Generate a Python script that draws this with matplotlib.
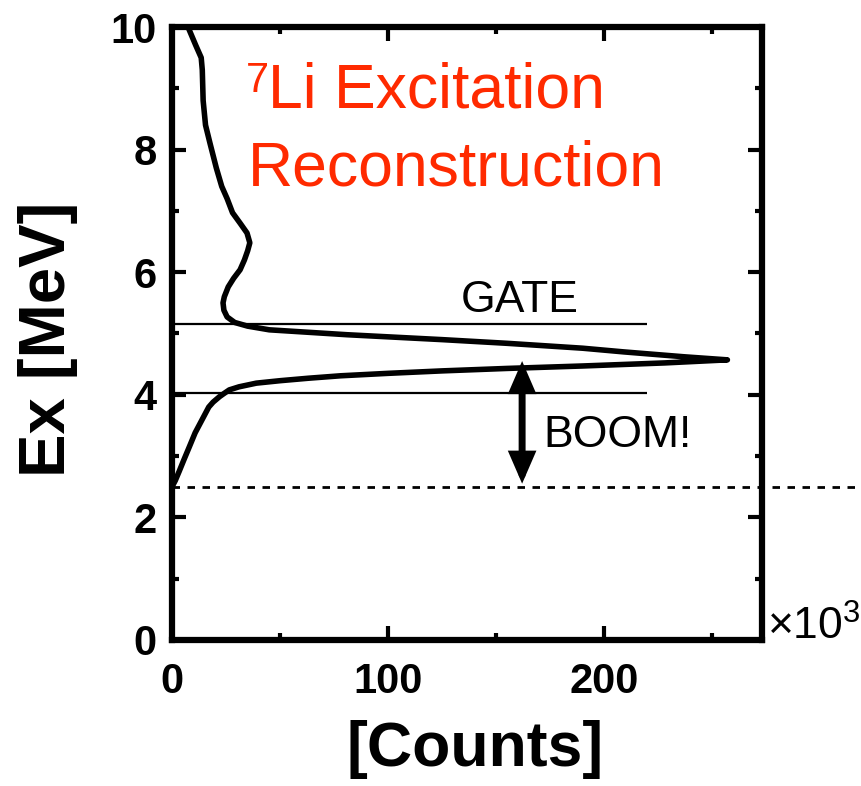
import numpy as np
import matplotlib
matplotlib.use("Agg")
import matplotlib.pyplot as plt

# Data (Ex in MeV, counts in units of 10^3)
ex = [10.0, 9.7, 9.5, 9.3, 8.8, 8.4, 8.1, 7.7, 7.4, 7.2, 6.97, 6.8, 6.64, 6.48, 6.35, 6.2,
      6.04, 5.9, 5.76, 5.6, 5.5, 5.38, 5.27, 5.18, 5.12, 5.06, 4.98, 4.90, 4.84, 4.76,
      4.70, 4.62, 4.57, 4.52, 4.47, 4.43, 4.39, 4.35, 4.31, 4.27, 4.23, 4.19, 4.13, 4.08,
      4.02, 3.97, 3.88, 3.80, 3.6, 3.38, 3.15, 2.94, 2.75, 2.6, 2.5]
counts = [7.4, 11, 13.5, 14, 14.4, 15.5, 17.6, 20.5, 23, 25.5, 28, 31.5, 34.7, 36, 35, 33.5,
          31.5, 28.5, 26, 24.2, 23.6, 24, 25.5, 29, 35, 45, 81, 125, 155, 190,
          209, 237, 257, 228, 190, 155, 125, 100, 78, 63, 50, 39, 31, 26.5,
          24, 22, 19, 17, 14, 10.7, 8, 5.5, 3.3, 1.5, 0.0]
gate_low, gate_high = 4.03, 5.15
gate_xmax = 220
threshold = 2.5
arrow_x = 162
arrow_top = 4.55

plt.rcParams['font.family'] = ['Liberation Sans', 'DejaVu Sans']
plt.rcParams['mathtext.fontset'] = 'custom'
plt.rcParams['mathtext.rm'] = 'Liberation Sans'

fig = plt.figure(figsize=(8.61, 7.86), dpi=100)
ax = fig.add_axes([0.1998, 0.1858, 0.885 - 0.1998, 0.9656 - 0.1858])

ax.plot(counts, ex, color='black', lw=4.0, solid_joinstyle='round', zorder=3)
ax.hlines([gate_high, gate_low], 0, gate_xmax, color='black', lw=1.6)
ax.plot([0, 320], [threshold, threshold], color='black', lw=2.0, ls=(0, (2.7, 2.7)), clip_on=False)
ax.annotate('', xy=(arrow_x, threshold + 0.05), xytext=(arrow_x, arrow_top),
            arrowprops=dict(arrowstyle='<|-|>,head_length=1.5,head_width=0.65', color='black',
                            lw=5, shrinkA=0, shrinkB=0, joinstyle='miter'))

ax.text(161, 5.35, 'GATE', fontsize=32, ha='center', va='baseline')
ax.text(172, 3.15, 'BOOM!', fontsize=32, ha='left', va='baseline')
red = '#ff2a00'
ax.text(34.3, 8.94, '7', fontsize=30, color=red, ha='left', va='baseline')
ax.text(44.4, 8.68, 'Li Excitation', fontsize=45, color=red, ha='left', va='baseline')
ax.text(35.2, 7.42, 'Reconstruction', fontsize=45, color=red, ha='left', va='baseline')

ax.set_xlim(0, 273)
ax.set_ylim(0, 10)
ax.set_xticks([0, 100, 200])
ax.set_xticks([50, 150, 250], minor=True)
ax.set_yticks([0, 2, 4, 6, 8, 10])
ax.set_yticks([1, 3, 5, 7, 9], minor=True)
ax.tick_params(which='both', direction='in', top=True, right=True, width=3)
ax.tick_params(which='major', length=10, labelsize=30)
ax.tick_params(axis='y', which='major', pad=11)
ax.tick_params(axis='x', which='major', pad=16)
ax.tick_params(which='minor', length=5)
for lab in ax.get_xticklabels() + ax.get_yticklabels():
    lab.set_fontweight('bold')
for s in ax.spines.values():
    s.set_linewidth(4.5)

ax.text(275.5, 0, r'$\times$10$^{3}$', fontsize=32, ha='left', va='baseline', clip_on=False)

fig.text(0.0557, 0.5687, 'Ex [MeV]', rotation=90, fontsize=47, fontweight='bold', ha='center', va='center')
fig.text(0.5517, 0.046, '[Counts]', fontsize=45, fontweight='bold', ha='center', va='center')

fig.savefig('out.png', dpi=100)
